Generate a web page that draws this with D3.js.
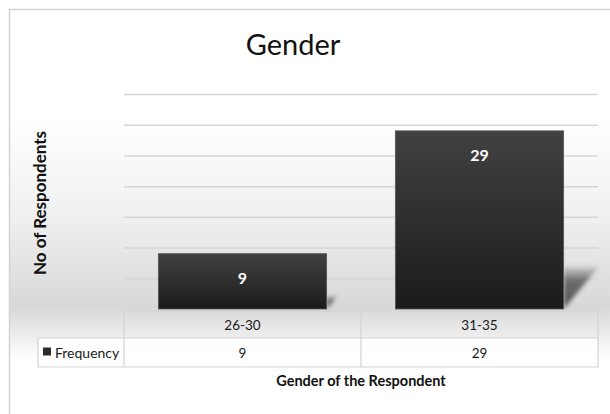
<!DOCTYPE html>
<html>
<head>
<meta charset="utf-8">
<script src="https://cdn.jsdelivr.net/npm/d3@7"></script>
<style>
  html, body { margin: 0; padding: 0; background: #fff; overflow: hidden; }
  svg { display: block; }
</style>
</head>
<body>
<svg id="chart" width="610" height="414"></svg>
<script>
// Age groups and respondent counts
const categories = ["26-30", "31-35"];
const frequency = [9, 29];
const seriesName = "Frequency";
const yTicks = [0, 5, 10, 15, 20, 25, 30, 35];
const titleText = "Gender";
const yTitle = "No of Respondents";
const xTitle = "Gender of the Respondent";

const svg = d3.select("#chart");
const W = 610, H = 414;
const font = "Lato, 'Open Sans', sans-serif";

const plot = { left: 124, right: 598, top: 94, bottom: 309 };

const x = d3.scaleBand().domain(categories).range([plot.left, plot.right])
  .paddingInner(0.29).paddingOuter(0.145);
const xCol = d3.scaleBand().domain(categories).range([plot.left, plot.right]);
const y = d3.scaleLinear().domain([0, 35]).range([plot.bottom, plot.top]);

const defs = svg.append("defs");

// soft grey band behind the lower half of the chart
const bg = defs.append("linearGradient").attr("id", "bgGrad")
  .attr("gradientUnits", "userSpaceOnUse")
  .attr("x1", 0).attr("y1", 120).attr("x2", 0).attr("y2", 360);
bg.append("stop").attr("offset", "0").attr("stop-color", "#ffffff");
bg.append("stop").attr("offset", "0.4").attr("stop-color", "#f0f0f0");
bg.append("stop").attr("offset", "0.78").attr("stop-color", "#d8d8d8");
bg.append("stop").attr("offset", "1").attr("stop-color", "#ffffff");

const barGrad = defs.append("linearGradient").attr("id", "barGrad")
  .attr("x1", 0).attr("y1", 0).attr("x2", 0).attr("y2", 1);
barGrad.append("stop").attr("offset", "0").attr("stop-color", "#414141");
barGrad.append("stop").attr("offset", "1").attr("stop-color", "#1b1b1b");

const shGrad = defs.append("linearGradient").attr("id", "shGrad")
  .attr("x1", 0).attr("y1", 0).attr("x2", 0).attr("y2", 1);
shGrad.append("stop").attr("offset", "0").attr("stop-color", "#444").attr("stop-opacity", 0.1);
shGrad.append("stop").attr("offset", "0.35").attr("stop-color", "#444").attr("stop-opacity", 0.75);
shGrad.append("stop").attr("offset", "1").attr("stop-color", "#444").attr("stop-opacity", 0.9);

defs.append("filter").attr("id", "soft").attr("x", "-30%").attr("y", "-30%")
  .attr("width", "160%").attr("height", "160%")
  .append("feGaussianBlur").attr("stdDeviation", 2);

// chart area background
svg.append("rect").attr("x", 9).attr("y", 9).attr("width", W - 9).attr("height", H - 9)
  .attr("fill", "url(#bgGrad)");
// frame: top and left edges
svg.append("path")
  .attr("d", `M9.5,${H} L9.5,9.5 L${W},9.5`)
  .attr("fill", "none").attr("stroke", "#d4d4d4").attr("stroke-width", 1.5);

// gridlines
svg.append("g")
  .attr("transform", `translate(${plot.left},0)`)
  .call(d3.axisLeft(y).tickValues(yTicks.filter(v => v > 0))
    .tickSize(-(plot.right - plot.left)).tickFormat(""))
  .call(g => g.select(".domain").remove())
  .call(g => g.selectAll("line").attr("stroke", "#d6d6d6").attr("stroke-width", 1.5));

// bar shadows, sized with the bar height
svg.append("g").selectAll("polygon")
  .data(categories)
  .join("polygon")
  .attr("points", (d, i) => {
    const x0 = x(d) + x.bandwidth();
    const yb = y(0);
    const h = y(0) - y(frequency[i]);
    const sh = h * 0.24, sw = h * 0.2;
    return `${x0},${yb - sh} ${x0 + sw},${yb - sh} ${x0},${yb}`;
  })
  .attr("fill", "url(#shGrad)")
  .attr("filter", "url(#soft)");

// bars
svg.append("g").selectAll("rect")
  .data(categories)
  .join("rect")
  .attr("x", d => x(d))
  .attr("y", (d, i) => y(frequency[i]))
  .attr("width", x.bandwidth())
  .attr("height", (d, i) => y(0) - y(frequency[i]))
  .attr("fill", "url(#barGrad)")
  .attr("stroke", "#555")
  .attr("stroke-width", 0.8);

// value labels inside the bar tops
svg.append("g").selectAll("text")
  .data(categories)
  .join("text")
  .attr("x", d => x(d) + x.bandwidth() / 2)
  .attr("y", (d, i) => y(frequency[i]) + 30)
  .attr("text-anchor", "middle")
  .attr("font-family", font)
  .attr("font-weight", "bold")
  .attr("font-size", 16)
  .attr("fill", "#fff")
  .text((d, i) => frequency[i]);

// data table under the axis
const rowH1 = { top: 311, bottom: 338 };
const rowH2 = { top: 338, bottom: 367 };
const tableLeft = 38;
const tbl = svg.append("g");
tbl.append("rect").attr("x", tableLeft).attr("y", rowH2.top)
  .attr("width", plot.right - tableLeft).attr("height", rowH2.bottom - rowH2.top)
  .attr("fill", "#ffffff").attr("fill-opacity", 0.85);
const lineStyle = sel => sel.attr("stroke", "#d3d3d3").attr("stroke-width", 1.2);
// horizontal rules
tbl.append("line").attr("x1", plot.left).attr("x2", plot.right)
  .attr("y1", rowH1.top).attr("y2", rowH1.top).call(lineStyle);
tbl.append("line").attr("x1", tableLeft).attr("x2", plot.right)
  .attr("y1", rowH2.top).attr("y2", rowH2.top).call(lineStyle);
tbl.append("line").attr("x1", tableLeft).attr("x2", plot.right)
  .attr("y1", rowH2.bottom).attr("y2", rowH2.bottom).call(lineStyle);
// vertical rules
tbl.append("line").attr("x1", tableLeft).attr("x2", tableLeft)
  .attr("y1", rowH2.top).attr("y2", rowH2.bottom).call(lineStyle);
tbl.selectAll("line.col")
  .data(categories.map(c => xCol(c)).concat([plot.right]))
  .join("line").attr("class", "col")
  .attr("x1", d => d).attr("x2", d => d)
  .attr("y1", rowH1.top).attr("y2", rowH2.bottom).call(lineStyle);

tbl.selectAll("text.cat")
  .data(categories)
  .join("text").attr("class", "cat")
  .attr("x", d => xCol(d) + xCol.bandwidth() / 2)
  .attr("y", 330)
  .attr("text-anchor", "middle")
  .attr("font-family", font).attr("font-size", 13.5).attr("fill", "#1a1a1a")
  .text(d => d);

tbl.selectAll("text.val")
  .data(categories)
  .join("text").attr("class", "val")
  .attr("x", d => xCol(d) + xCol.bandwidth() / 2)
  .attr("y", 357.5)
  .attr("text-anchor", "middle")
  .attr("font-family", font).attr("font-size", 13.5).attr("fill", "#1a1a1a")
  .text((d, i) => frequency[i]);

// legend key in the first column
tbl.append("rect").attr("x", 43).attr("y", 347.5).attr("width", 8).attr("height", 8)
  .attr("fill", "#2a2a2a");
tbl.append("text").attr("x", 55).attr("y", 357.5)
  .attr("font-family", font).attr("font-size", 14).attr("fill", "#1a1a1a")
  .text(seriesName);

// titles
svg.append("text").attr("x", 293).attr("y", 55)
  .attr("text-anchor", "middle")
  .attr("font-family", font).attr("font-size", 29).attr("fill", "#111")
  .text(titleText);

svg.append("text")
  .attr("transform", "translate(46,203) rotate(-90)")
  .attr("text-anchor", "middle")
  .attr("font-family", font).attr("font-weight", "bold").attr("font-size", 17)
  .attr("fill", "#111")
  .text(yTitle);

svg.append("text").attr("x", 361).attr("y", 386)
  .attr("text-anchor", "middle")
  .attr("font-family", font).attr("font-weight", "bold").attr("font-size", 14.5)
  .attr("fill", "#111")
  .text(xTitle);
</script>
</body>
</html>
